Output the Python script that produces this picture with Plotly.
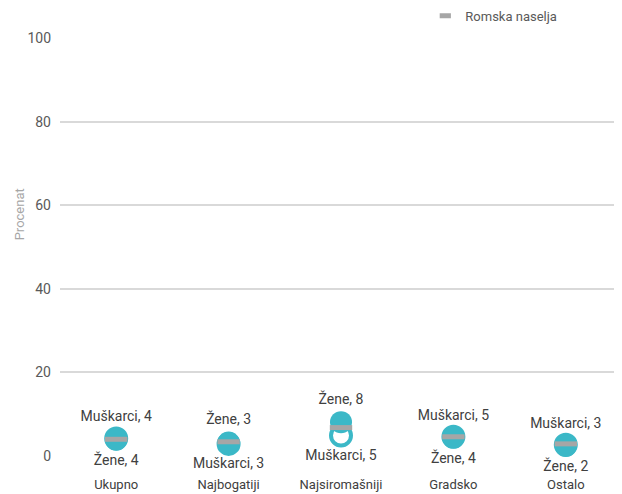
import plotly.graph_objects as go

categories = ["Ukupno", "Najbogatiji", "Najsiromašniji", "Gradsko", "Ostalo"]
zene = [3.9, 3.2, 8.1, 4.4, 2.4]
muskarci = [4.2, 2.9, 4.9, 4.6, 2.7]
romska = [4.0, 3.4, 6.8, 4.6, 2.9]
y_ticks = [0, 20, 40, 60, 80, 100]

teal = "#3BB8C7"
grey = "#A6A6A6"
txt = "#404040"
font_family = "Roboto, sans-serif"

z_pos = ["top center" if z > m else "bottom center" for z, m in zip(zene, muskarci)]
m_pos = ["top center" if m >= z else "bottom center" for z, m in zip(zene, muskarci)]

fig = go.Figure()
fig.add_trace(go.Scatter(
    x=categories, y=muskarci, mode="markers+text",
    marker=dict(size=20, color="white", line=dict(color=teal, width=4)),
    text=[f"Muškarci, {round(v)}" for v in muskarci], textposition=m_pos,
    textfont=dict(size=14, color=txt, family=font_family),
    showlegend=False, name="Muškarci", cliponaxis=False))
fig.add_trace(go.Scatter(
    x=categories, y=zene, mode="markers+text",
    marker=dict(size=22, color=teal),
    text=[f"Žene, {round(v)}" for v in zene], textposition=z_pos,
    textfont=dict(size=14, color=txt, family=font_family),
    showlegend=False, name="Žene", cliponaxis=False))
fig.add_trace(go.Scatter(
    x=categories, y=romska, mode="markers",
    marker=dict(symbol="line-ew", size=16, color=grey, line=dict(color=grey, width=5)),
    name="Romska naselja", showlegend=False, cliponaxis=False))
# legend entry with the small legend swatch
fig.add_trace(go.Scatter(
    x=[None], y=[None], mode="markers",
    marker=dict(symbol="line-ew", size=8, color=grey, line=dict(color=grey, width=5)),
    name="Romska naselja", showlegend=True))

fig.add_annotation(text="Procenat", xref="paper", yref="paper", x=-0.072, y=0.577,
                   xanchor="center", yanchor="middle", textangle=-90, showarrow=False,
                   font=dict(size=13, color="#A6A6A6", family=font_family))

fig.update_layout(
    width=614, height=486,
    margin=dict(l=52, r=0, t=30, b=38, autoexpand=False),
    paper_bgcolor="white", plot_bgcolor="white",
    font=dict(family=font_family, color="#595959", size=14),
    showlegend=True,
    legend=dict(x=0.65, y=1.053, xanchor="left", yanchor="middle", orientation="h",
                font=dict(size=13, color="#595959"), bgcolor="rgba(0,0,0,0)",
                itemwidth=30),
    xaxis=dict(showgrid=False, showline=False, zeroline=False, ticks="",
               tickfont=dict(size=13, color=txt), ticklabelstandoff=19,
               range=[-0.5, 4.5], automargin=False),
    yaxis=dict(range=[0, 100], tickvals=y_ticks, showgrid=True, gridcolor="#D9D9D9",
               gridwidth=2, zeroline=False, showline=False, automargin=False,
               tickfont=dict(size=14, color="#595959"), ticklabelstandoff=8),
)

fig.write_html("out.html")
